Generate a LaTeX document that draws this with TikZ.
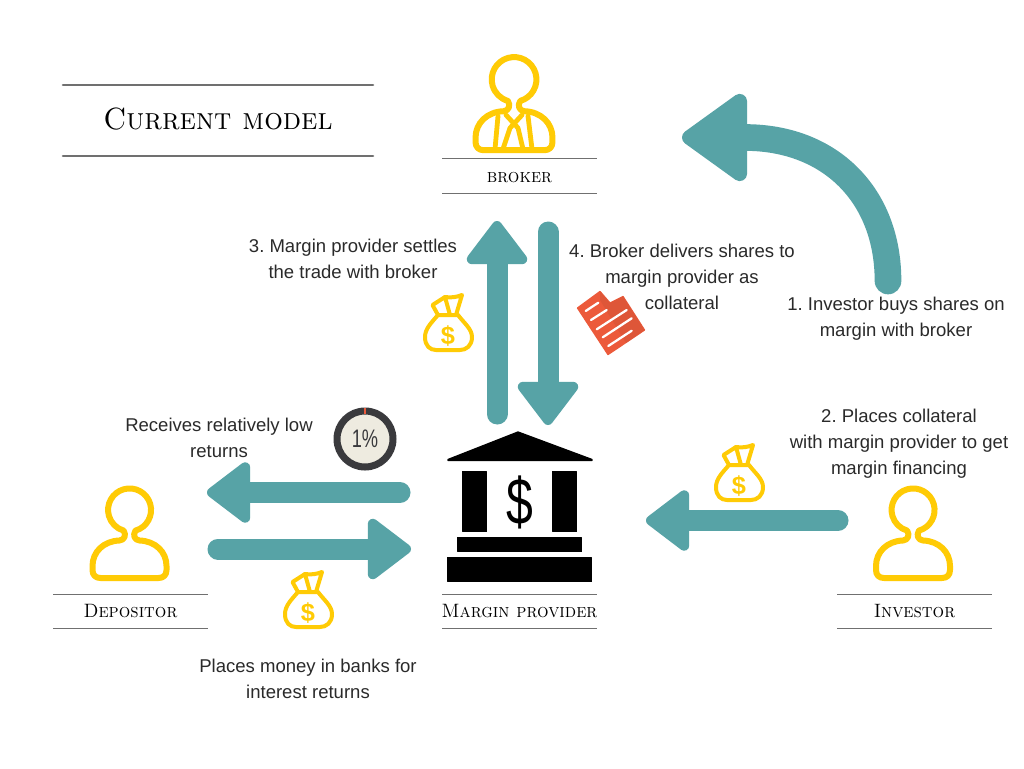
\documentclass[tikz,border=0pt]{standalone}
\usepackage{fontspec}
\newfontfamily\bodyfont{Liberation Sans}
\usetikzlibrary{arrows.meta}
\frenchspacing
\definecolor{teal}{HTML}{57A3A6}
\definecolor{gold}{HTML}{FFCB05}
\definecolor{ink}{HTML}{2A2A2A}
\definecolor{rulegrey}{HTML}{707070}
\definecolor{docred}{HTML}{EC5A3B}
\definecolor{docdark}{HTML}{DE5638}
\definecolor{ringdark}{HTML}{3A3A3D}
\definecolor{ringfill}{HTML}{EEEBE0}
\tikzset{
 x=0.75pt,y=-0.75pt,
 flow/.style={draw=teal,line width=15.75pt,line cap=round,line join=round},
 bighead/.style={-{Triangle[length=53pt,width=73pt,round,line width=11pt,fill=teal,color=teal]}},
 smallhead/.style={-{Triangle[length=35pt,width=51pt,round,line width=7.5pt,fill=teal,color=teal]}},
 say/.style={font=\bodyfont\fontsize{13.9pt}{19.5pt}\selectfont,text=ink,align=center,inner sep=0pt},
 tag/.style={font=\normalfont\fontsize{14.5pt}{17pt}\selectfont,text=black,inner sep=0pt,xscale=0.94},
 rule/.style={draw=rulegrey,line width=0.75pt},
 titlerule/.style={draw=rulegrey,line width=1.9pt,line cap=round},
 icon/.style={draw=gold,line width=4.5pt,line join=round,line cap=round},
 bagline/.style={draw=gold,line width=3pt,line join=round,line cap=round},
 black block/.style={fill=black,draw=black,line width=1pt,line join=round},
 person/.pic={
  \draw[icon] (6,20.6) arc[start angle=74,end angle=-254,radius=21.5]
   .. controls (-3,25) and (-5,30) .. (-10,30.5)
   .. controls (-26,31) and (-37,42) .. (-37,56) -- (-37,60)
   .. controls (-37,65) and (-34,68) .. (-29,68) -- (29,68)
   .. controls (34,68) and (37,65) .. (37,60) -- (37,56)
   .. controls (37,42) and (26,31) .. (10,30.5)
   .. controls (5,30) and (3,25) .. (6,20.6) -- cycle;
 },
 moneybag/.pic={
  \draw[bagline] (-10,-8) .. controls (-17,0) and (-23,6) .. (-23,14)
    .. controls (-23,23) and (-18,27) .. (-12,27) -- (12,27)
    .. controls (18,27) and (24,23) .. (24,14)
    .. controls (24,6) and (16,0) .. (10,-8) -- cycle;
  \draw[bagline] (-10,-8) -- (-15.5,-18) -- (-3,-26) -- (2,-8);
  \draw[bagline] (-3,-26) .. controls (3,-25) and (9,-26) .. (14,-28) -- (8,-8);
  \node[inner sep=0pt,text=gold,font=\bodyfont\bfseries\fontsize{19pt}{19pt}\selectfont] at (0,13) {\$};
 },
}
\begin{document}
\begin{tikzpicture}
\useasboundingbox (0,0) rectangle (1024,768);
\fill[white] (0,0) rectangle (1024,768);

% title
\draw[titlerule] (63,85) -- (373,85);
\draw[titlerule] (63,156) -- (373,156);
\node[inner sep=0pt,xscale=0.955,font=\normalfont\fontsize{23pt}{28pt}\selectfont,text=black] (title) at (218,119) {\textsc{Current model}};

% people
\pic[scale=1.04] at (514,79.5) {person};
\pic at (129.5,510) {person};
\pic at (913,510) {person};
\draw[icon,line width=3.6pt] (498,116) -- (495,149) (528,116) -- (532,149)
  (506,115) -- (518,128) -- (523,149) (522,115) -- (510,128) -- (503,149);

% labels
\draw[rule] (442,158) -- (597,158) (442,193) -- (597,193);
\draw[rule] (53,594) -- (208,594) (53,628) -- (208,628);
\draw[rule] (442,594) -- (597,594) (442,628) -- (597,628);
\draw[rule] (837,594) -- (992,594) (837,628) -- (992,628);
\node[tag,anchor=base] (brokertag) at (519.5,182) {\textsc{broker}};
\node[tag,anchor=base] (depositortag) at (130.5,617) {\textsc{Depositor}};
\node[tag,anchor=base] (providertag) at (519.5,617) {\textsc{Margin provider}};
\node[tag,anchor=base] (investortag) at (914.5,617) {\textsc{Investor}};

% bank
\fill[black block] (518,432) -- (592,459.5) -- (592,460.5) -- (448,460.5) -- (448,459.5) -- cycle;
\fill[black block] (462.5,471.5) rectangle (486.5,531.5);
\fill[black block] (552.5,471.5) rectangle (576.5,531.5);
\fill[black block] (457.5,537.5) rectangle (581.5,551.5);
\fill[black block] (447.5,557.5) rectangle (591.5,581.5);
\node[inner sep=0pt,text=black,xscale=0.82,yscale=1.12,font=\bodyfont\fontsize{44pt}{44pt}\selectfont] (dollar) at (519.5,502) {\$};

% flows
\coordinate (upA) at (497,414); \coordinate (upB) at (497,221);
\coordinate (dnA) at (548,232); \coordinate (dnB) at (548,425);
\coordinate (lowA) at (400,492.5); \coordinate (lowB) at (207,492.5);
\coordinate (depA) at (218,549); \coordinate (depB) at (411,549);
\coordinate (invA) at (838,520.5); \coordinate (invB) at (646,520.5);
\coordinate (buyA) at (888,281); \coordinate (buyB) at (682,137.5);
\draw[flow,smallhead] (upA) -- (upB);
\draw[flow,smallhead] (dnA) -- (dnB);
\draw[flow,smallhead] (lowA) -- (lowB);
\draw[flow,smallhead] (depA) -- (depB);
\draw[flow,smallhead] (invA) -- (invB);
\draw[flow,line width=20pt,bighead] (buyA) .. controls (888,195) and (830,137.5) .. (745,137.5) -- (buyB);

% bags
\pic at (448,323) {moneybag};
\pic at (739,473) {moneybag};
\pic at (308,600) {moneybag};

% document
\fill[docred,draw=docred,line width=1pt,line join=round] (577.5,308) -- (600,291.5) -- (610,303) -- (623,296.5) -- (644.5,330) -- (608,354.5) -- cycle;
\fill[docdark] (600,291.5) -- (610,303) -- (623,296.5) -- (644.5,330) -- (626,343) -- (600,300) -- cycle;
\draw[white,line width=1.7pt,line cap=round] (585.7,311) -- (598.3,302.7) (591,320) -- (606.7,310)
 (596.7,329.3) -- (626.7,310) (602.7,337.3) -- (631.7,318.3) (608.3,346) -- (631.7,330.7);

% one percent
\draw[ringdark,fill=ringfill,line width=5.25pt] (365,439) circle[radius=28];
\draw[docred,line width=1pt] (365,408) -- (365,414);
\node[inner sep=0pt,text=ringdark,xscale=0.72,font=\bodyfont\fontsize{19pt}{19pt}\selectfont] (pct) at (365,439) {1\%};

% texts
\node[say] (t3) at (353,259) {3. Margin provider settles\\the trade with broker};
\node[say] (t4) at (682,277) {4. Broker delivers shares to\\margin provider as\\collateral};
\node[say] (t1) at (896,319) {1. Investor buys shares on\\margin with broker};
\node[say] (t2) at (899,444) {2. Places collateral\\with margin provider to get\\margin financing};
\node[say] (tlow) at (219,438) {Receives relatively low\\returns};
\node[say] (tbank) at (308,679) {Places money in banks for\\interest returns};
\end{tikzpicture}
\end{document}
